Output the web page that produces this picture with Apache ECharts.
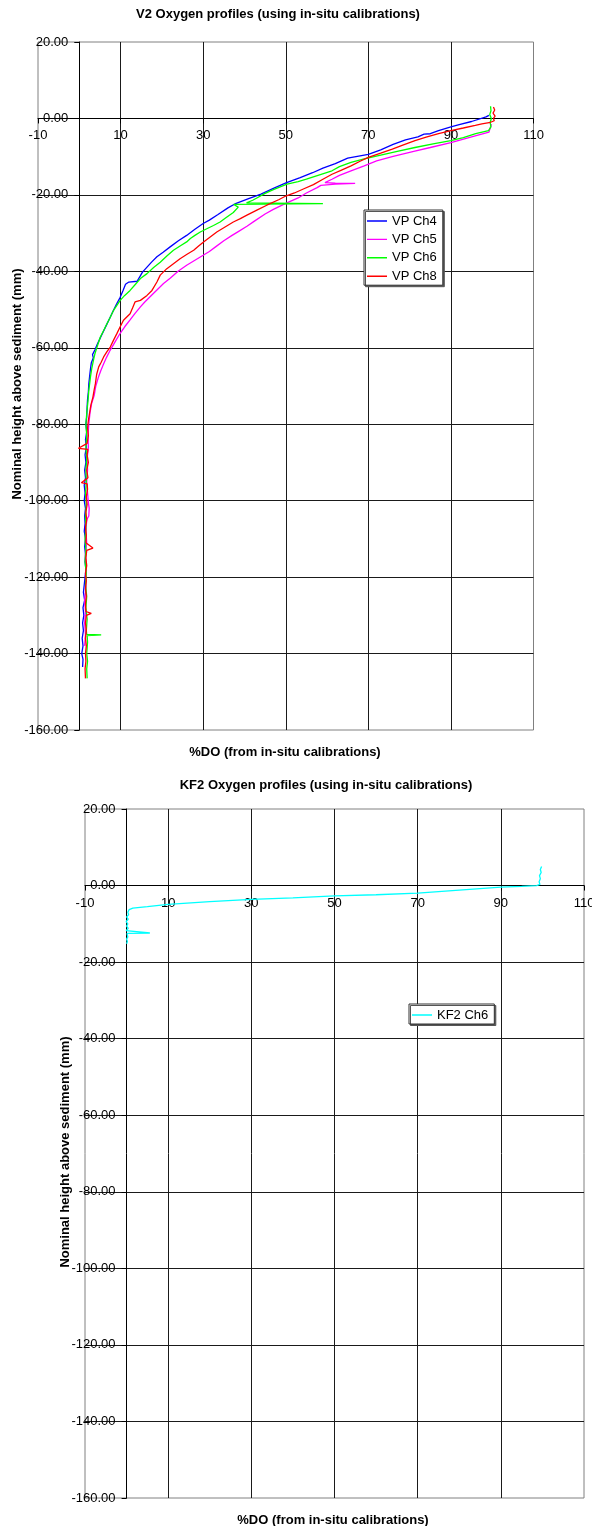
<!DOCTYPE html>
<html><head><meta charset="utf-8">
<script src="https://cdn.jsdelivr.net/npm/echarts@6/dist/echarts.min.js"></script>
<style>html,body{margin:0;padding:0;background:#fff}#c{width:592px;height:1526px}</style>
</head><body><div id="c"></div>
<script>
// ---------- axis ticks ----------
const xMin = -10, xMax = 110, xStep = 20;
const yMin = -160, yMax = 20, yStep = 20;
const xTickLabels = ['-10', '10', '30', '50', '70', '90', '110'];
const yTickLabels = ['-160.00', '-140.00', '-120.00', '-100.00', '-80.00', '-60.00', '-40.00', '-20.00', '0.00', '20.00'];

// ---------- titles ----------
const chartTitles = ['V2 Oxygen profiles (using in-situ calibrations)', 'KF2 Oxygen profiles (using in-situ calibrations)'];
const xAxisTitle = '%DO (from in-situ calibrations)';
const yAxisTitle = 'Nominal height above sediment (mm)';

// ---------- V2 series: [%DO, height mm] ----------
const namesV2 = ['VP Ch4', 'VP Ch5', 'VP Ch6', 'VP Ch8'];
const vpCh4 = [[99.2,0.8],[98.5,0.4],[95,-0.8],[92,-1.6],[90,-2.2],[87,-3.2],[85,-4.0],[83.5,-4.1],[82,-4.8],[79,-5.6],[76,-6.8],[73,-8.2],[70,-9.4],[67,-10.0],[65,-10.4],[62,-11.8],[59,-13.0],[56.5,-14.2],[53.5,-15.5],[50.2,-16.8],[47,-18.3],[44,-19.8],[41,-21.0],[38,-22.2],[36,-23.4],[33.5,-25.2],[31.5,-26.6],[30,-27.5],[28,-29.0],[26,-30.6],[24,-32.0],[22,-33.6],[20.3,-35.0],[18.8,-36.2],[17.5,-37.6],[16.4,-38.9],[15.3,-40.2],[14.6,-41.5],[14.0,-42.6],[12.0,-42.8],[11.2,-43.4],[10.6,-45.0],[9.9,-46.8],[9.0,-48.6],[8.2,-50.4],[7.4,-52.2],[6.6,-54.0],[5.8,-55.8],[5.0,-57.6],[4.3,-59.2],[3.8,-60.5],[3.2,-61.8],[3.4,-62.6],[2.9,-64.0],[2.7,-65.6],[2.5,-67.5],[2.3,-69.5],[2.2,-71.5],[2.0,-73.5],[1.9,-75.5],[1.8,-78],[1.6,-80],[1.8,-82],[1.5,-84],[1.7,-86],[1.4,-88],[1.6,-90],[1.3,-92],[1.5,-94],[1.2,-96],[1.4,-98],[1.2,-100],[1.5,-102],[1.3,-104],[1.4,-106],[1.2,-108],[1.5,-110],[1.3,-112],[1.5,-114],[1.4,-116],[1.6,-118],[1.4,-120],[1.2,-122],[1.0,-124],[1.3,-126],[0.9,-128],[1.1,-130],[0.8,-132],[1.0,-134],[0.7,-136],[0.9,-138],[0.6,-140],[0.9,-141.5],[0.8,-143.5]];
const vpCh5 = [[99.8,-1.5],[99.2,-3.6],[95,-4.8],[90,-6.3],[85,-7.6],[81,-8.6],[76,-9.9],[72,-11.1],[69,-12.4],[65.8,-13.7],[63,-14.9],[61.2,-15.9],[59.5,-16.8],[62,-16.9],[66.8,-17.0],[62,-17.2],[58.5,-17.5],[57.6,-18.1],[55,-19.5],[53,-20.8],[50,-22.2],[47,-23.8],[45,-25.0],[42.5,-26.8],[40.6,-28.2],[38.5,-29.6],[37,-30.6],[35,-32.0],[33,-33.6],[31.5,-34.8],[30,-35.8],[28,-37.1],[26,-38.4],[24,-39.9],[22,-41.8],[20.4,-43.2],[18.8,-44.9],[17.2,-46.6],[15.8,-48.1],[14.8,-49.3],[13.5,-51.0],[12.3,-52.7],[11.0,-54.5],[9.9,-56.2],[8.7,-58.4],[7.5,-60.6],[6.6,-62.5],[5.9,-64.2],[5.2,-66.0],[4.6,-67.8],[4.0,-70.0],[3.6,-72.5],[3.0,-74.5],[2.6,-77],[2.3,-80],[2.1,-83],[2.2,-86],[1.9,-89],[2.0,-92],[1.8,-95],[2.0,-98],[2.2,-100.5],[2.4,-102],[2.3,-104],[1.8,-105],[1.6,-108],[1.8,-111],[1.5,-114],[1.7,-117],[1.5,-120],[1.6,-123],[1.3,-126],[1.5,-129],[1.3,-132],[1.5,-135],[1.3,-138]];
const vpCh6 = [[99.6,3.2],[99.7,2.0],[99.4,1.0],[99.8,0],[99.5,-1.0],[99.7,-2.2],[99.1,-3.2],[96,-4.0],[93,-5.0],[90,-5.8],[86,-6.6],[81.3,-7.6],[77,-8.6],[72.2,-9.8],[69,-10.6],[65.8,-11.5],[63,-12.6],[61.2,-13.7],[58,-14.8],[55,-15.9],[53,-16.5],[50.3,-17.2],[47,-18.6],[45,-19.6],[43,-20.8],[42,-21.4],[40.5,-22.1],[59,-22.3],[37.4,-22.5],[38.5,-23.2],[37.3,-24.6],[35.5,-26.0],[34.1,-27.1],[32.5,-28.0],[31,-28.8],[29.3,-29.7],[28,-30.6],[26.9,-31.4],[26,-32.3],[24.5,-33.3],[22.8,-34.5],[21.2,-36.0],[19.6,-37.6],[18,-39.0],[16.4,-40.6],[14.8,-41.9],[13.5,-43.5],[12.3,-45.0],[11,-46.3],[9.9,-47.6],[8.3,-50.2],[7.5,-52],[6.7,-53.7],[5.9,-55.5],[5.1,-57.2],[4.3,-59.8],[3.8,-61.5],[3.5,-62.9],[3.0,-65.5],[2.7,-67.7],[2.3,-71.2],[2.1,-74],[1.8,-77.2],[1.6,-80],[1.8,-83],[1.6,-86],[1.8,-89],[1.6,-92],[1.7,-95],[1.5,-98],[1.7,-101],[1.5,-104],[1.6,-107],[1.4,-110],[1.6,-113],[1.4,-116],[1.7,-119],[1.5,-122],[1.8,-125],[1.6,-128],[1.9,-131],[1.7,-134],[1.8,-135],[5.3,-135.1],[1.9,-135.3],[2.0,-137],[1.8,-140],[2.0,-142],[1.8,-144],[1.9,-146.5]];
const vpCh8 = [[100.3,3.0],[100.6,2.2],[100.2,1.4],[100.7,0.6],[100.3,0],[100.5,-0.6],[99.6,-1.0],[97.5,-1.4],[95.9,-1.8],[93,-2.5],[90,-3.2],[87,-4.0],[84,-4.9],[81.3,-5.8],[78.5,-6.9],[75.8,-8.0],[73,-9.1],[70,-10.2],[68,-11.2],[65.8,-12.4],[63.5,-13.5],[61.2,-14.6],[59,-15.9],[56.7,-17.3],[54.4,-18.4],[52.1,-19.5],[50,-20.3],[48.4,-21.2],[45.4,-22.7],[43,-24.0],[40.6,-25.3],[39,-26.2],[37.3,-27.1],[35.3,-28.4],[33.3,-29.7],[31.7,-31.0],[30.1,-32.3],[28.9,-33.4],[27.7,-34.5],[26,-35.6],[24.4,-36.7],[22.8,-38.0],[21.2,-39.3],[19.6,-41.0],[18.8,-42.8],[17.6,-45.0],[16.4,-46.3],[14.8,-47.6],[13.5,-48.0],[12.9,-49.6],[12.3,-51.1],[10.7,-52.8],[9.9,-54.5],[9.1,-56.3],[8.3,-58.0],[7.5,-59.8],[6.7,-61.0],[5.9,-62.4],[5.3,-63.8],[4.7,-65.0],[4.2,-67.0],[3.9,-69.4],[3.6,-71.0],[3.3,-72.9],[2.8,-75],[2.5,-77],[2.2,-79],[2.0,-81],[2.2,-83],[1.9,-85],[-0.2,-86.3],[2.1,-86.6],[1.9,-88],[2.2,-90],[1.8,-92],[2.1,-94],[0.5,-95.3],[1.9,-95.6],[2.0,-97],[1.7,-99],[1.9,-101],[1.6,-103],[1.8,-105],[1.5,-107],[1.7,-109],[1.6,-111],[3.3,-112.4],[1.8,-113],[1.6,-115],[1.8,-117],[1.5,-119],[1.7,-121],[1.5,-123],[1.7,-125],[1.5,-127],[1.6,-129],[2.9,-129.5],[1.7,-130],[1.5,-132],[1.7,-134],[1.5,-136],[1.7,-138],[1.5,-140],[1.6,-142],[1.4,-144],[1.5,-146.5]];
const colorsV2 = ['#0000ff', '#ff00ff', '#00ff00', '#ff0000'];

// ---------- KF2 series ----------
const namesKF2 = ['KF2 Ch6'];
const kf2Ch6 = [[99.8,5.0],[99.5,4.2],[99.7,3.4],[99.3,2.6],[99.5,1.8],[99.2,1.0],[99.4,0.3],[98.6,0],[95,-0.2],[90,-0.4],[80,-1.2],[70,-2.0],[60,-2.4],[50,-2.7],[40,-3.2],[30,-3.6],[20,-4.2],[10,-4.9],[5,-5.5],[1.5,-5.9],[0.6,-6.3],[0.3,-7.0],[0.5,-7.6],[0.0,-8.2],[0.4,-8.8],[-0.1,-9.4],[0.3,-10.0],[0.0,-10.6],[0.4,-11.2],[-0.1,-11.8],[0.2,-12.3],[5.6,-12.4],[0.1,-12.5],[-0.2,-12.8],[0.3,-13.4],[0.0,-14.0],[0.2,-14.6],[0.0,-15.2]];
const colorsKF2 = ['#00ffff'];

// ---------- layout ----------
const FONT = '"Liberation Sans", Arial, sans-serif';
const grids = [
  { left: 38, top: 42, width: 495.5, height: 688 },
  { left: 85, top: 809, width: 499, height: 689 }
];

// axes cross at value 0: shift each axis from its grid edge to the zero position
function xAxisFor(i, margin) {
  const g = grids[i];
  const zeroY = g.top + g.height * (yMax - 0) / (yMax - yMin);
  return {
    gridIndex: i, type: 'value', min: xMin, max: xMax, interval: xStep,
    position: 'bottom', offset: zeroY - (g.top + g.height),
    axisLine: { show: true, onZero: false, lineStyle: { color: '#000', width: 1 } },
    axisTick: { show: true, length: 5, lineStyle: { color: '#000' } },
    axisLabel: { show: true, margin: margin, color: '#000', fontSize: 13, fontFamily: FONT,
      formatter: v => xTickLabels[Math.round((v - xMin) / xStep)] },
    splitLine: { show: true, showMinLine: false, showMaxLine: false, lineStyle: { color: '#1a1a1a', width: 1 } }
  };
}
function yAxisFor(i) {
  const g = grids[i];
  const zeroX = g.left + g.width * (0 - xMin) / (xMax - xMin);
  return {
    gridIndex: i, type: 'value', min: yMin, max: yMax, interval: yStep,
    position: 'left', offset: g.left - zeroX,
    axisLine: { show: true, onZero: false, lineStyle: { color: '#000', width: 1 } },
    axisTick: { show: true, length: 5, lineStyle: { color: '#000' } },
    axisLabel: { show: true, margin: 11, color: '#000', fontSize: 13, fontFamily: FONT,
      formatter: v => yTickLabels[Math.round((v - yMin) / yStep)] },
    splitLine: { show: true, showMinLine: false, showMaxLine: false, lineStyle: { color: '#1a1a1a', width: 1 } }
  };
}

const series = [];
[vpCh4, vpCh5, vpCh6, vpCh8].forEach((d, k) => series.push({
  name: namesV2[k], type: 'line', xAxisIndex: 0, yAxisIndex: 0, data: d,
  symbol: 'none', showSymbol: false, lineStyle: { color: colorsV2[k], width: 1.3 }, itemStyle: { color: colorsV2[k] },
  animation: false, z: 3
}));
[kf2Ch6].forEach((d, k) => series.push({
  name: namesKF2[k], type: 'line', xAxisIndex: 1, yAxisIndex: 1, data: d,
  symbol: 'none', showSymbol: false, lineStyle: { color: colorsKF2[k], width: 1.3 }, itemStyle: { color: colorsKF2[k] },
  animation: false, z: 3
}));

// legend icon: a short horizontal line centred in a 20x14 box
const lineIcon = 'path://M0,0h0.01v0.01h-0.01z M0,6.3h20v1.4h-20z M0,14h0.01v-0.01h-0.01z';
const legendCommon = {
  orient: 'vertical', backgroundColor: '#fff', borderColor: '#333', borderWidth: 1,
  shadowColor: '#555', shadowOffsetX: 1.5, shadowOffsetY: 1.5, shadowBlur: 0,
  icon: lineIcon, itemWidth: 20, itemHeight: 14, itemGap: 4.4, padding: [4, 6, 2, 3],
  textStyle: { color: '#000', fontSize: 13, fontFamily: FONT }
};

const txt = (x, y, text, rot) => ({
  type: 'text', x: x, y: y, rotation: rot || 0,
  style: { text: text, fill: '#000', font: 'bold 13px ' + FONT, align: 'center', verticalAlign: 'middle' }
});

const option = {
  animation: false,
  backgroundColor: '#fff',
  grid: grids.map(g => Object.assign({ show: true, borderColor: '#808080', borderWidth: 1, backgroundColor: '#fff', containLabel: false, outerBoundsMode: 'none' }, g)),
  xAxis: [xAxisFor(0, 10), xAxisFor(1, 11)],
  yAxis: [yAxisFor(0), yAxisFor(1)],
  legend: [
    Object.assign({ data: namesV2, left: 364, top: 210 }, legendCommon),
    Object.assign({ data: namesKF2, left: 409, top: 1004 }, legendCommon)
  ],
  graphic: [
    txt(278, 14, chartTitles[0]),
    txt(285, 752, xAxisTitle),
    txt(17, 384, yAxisTitle, Math.PI / 2),
    txt(326, 785, chartTitles[1]),
    txt(333, 1520, xAxisTitle),
    txt(65, 1152, yAxisTitle, Math.PI / 2)
  ],
  series: series
};

const chart = echarts.init(document.getElementById('c'), null, { renderer: 'canvas' });
chart.setOption(option);
</script></body></html>
